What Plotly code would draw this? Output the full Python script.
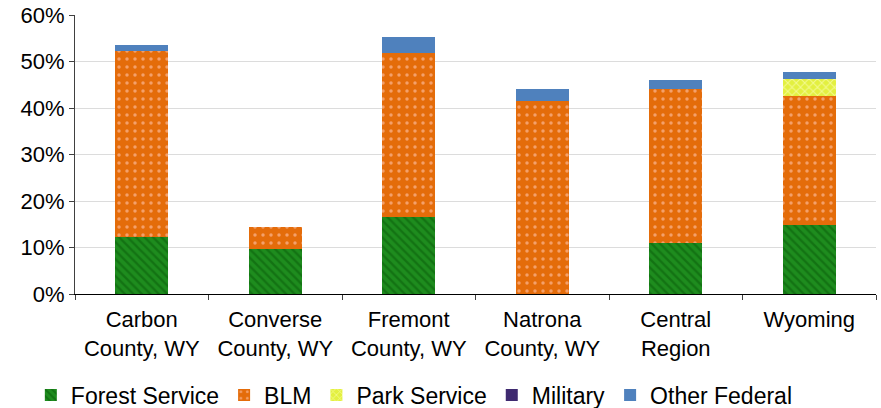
import plotly.graph_objects as go

categories = ["Carbon<br>County, WY", "Converse<br>County, WY", "Fremont<br>County, WY",
              "Natrona<br>County, WY", "Central<br>Region", "Wyoming"]
forest_service = [12.3, 9.7, 16.6, 0.0, 11.0, 14.8]
blm = [40.0, 4.7, 35.2, 41.5, 33.1, 27.8]
park_service = [0.0, 0.0, 0.0, 0.0, 0.0, 3.6]
military = [0.0, 0.0, 0.0, 0.0, 0.0, 0.0]
other_federal = [1.2, 0.0, 3.5, 2.6, 1.9, 1.5]
y_ticks = [0, 10, 20, 30, 40, 50, 60]
y_tick_labels = ["0%", "10%", "20%", "30%", "40%", "50%", "60%"]

series = [
    ("Forest Service", forest_service, "#1e8c1e", dict(shape="\\", fgcolor="#137313", size=6, solidity=0.4)),
    ("BLM", blm, "#e46c0a", dict(shape=".", fgcolor="#f4a06a", size=8, solidity=0.15)),
    ("Park Service", park_service, "#e3f040", dict(shape="x", fgcolor="#f4fa90", size=6, solidity=0.3)),
    ("Military", military, "#3f2a70", None),
    ("Other Federal", other_federal, "#4f81bd", None),
]

fig = go.Figure()
for name, vals, color, pat in series:
    marker = dict(color=color, line=dict(width=0))
    if pat:
        p = dict(pat)
        p["bgcolor"] = color
        p["fillmode"] = "replace"
        marker["pattern"] = p
    fig.add_trace(go.Bar(name=name, x=categories, y=vals, marker=marker, width=0.4))

font = "Liberation Sans, Arial, sans-serif"
fig.update_layout(
    barmode="stack",
    width=881, height=408,
    margin=dict(l=75, r=5, t=15, b=114),
    plot_bgcolor="white", paper_bgcolor="white",
    font=dict(family=font, size=22, color="#000000"),
    legend=dict(orientation="h", xref="container", x=0.035, xanchor="left",
                yref="container", y=1 - 395 / 408, yanchor="middle",
                font=dict(size=23), itemwidth=30, traceorder="normal"),
    showlegend=True,
)
fig.update_xaxes(
    showline=True, linecolor="#000000", linewidth=1,
    ticks="outside", tickson="boundaries", ticklen=5, tickcolor="#404040",
    tickfont=dict(size=22), showgrid=False, automargin=False,
    ticklabelstandoff=6,
)
fig.update_yaxes(
    range=[0, 60], tickvals=y_ticks, ticktext=y_tick_labels,
    showline=True, linecolor="#404040", linewidth=1,
    ticks="outside", ticklen=5, tickcolor="#404040",
    showgrid=True, gridcolor="#dcdcdc", gridwidth=1,
    tickfont=dict(size=22), zeroline=False, automargin=False,
)
fig.write_html("out.html", config={"displayModeBar": False},
               post_script="document.body.style.margin='0';document.body.style.overflow='hidden';")
